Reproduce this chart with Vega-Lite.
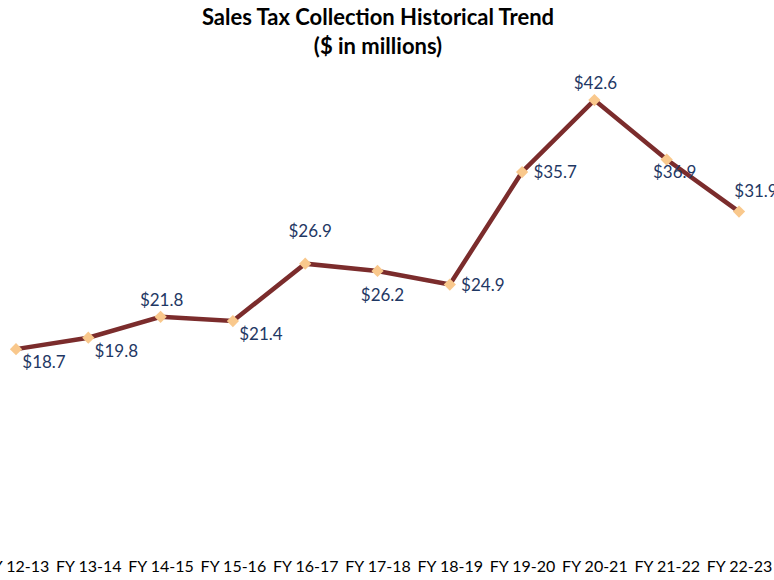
{
  "$schema": "https://vega.github.io/schema/vega-lite/v6.json",
  "width": 774,
  "height": 580,
  "autosize": "none",
  "padding": 0,
  "background": "white",
  "config": {"view": {"stroke": null}, "font": "Lato"},
  "title": {
    "text": ["Sales Tax Collection Historical Trend", "($ in millions)"],
    "fontSize": 22,
    "fontWeight": "bold",
    "font": "Lato",
    "color": "#000000",
    "anchor": "middle",
    "dx": -9,
    "dy": 63,
    "lineHeight": 29
  },
  "data": {
    "values": [
      {"fy": "FY 12-13", "v": 18.7},
      {"fy": "FY 13-14", "v": 19.8},
      {"fy": "FY 14-15", "v": 21.8},
      {"fy": "FY 15-16", "v": 21.4},
      {"fy": "FY 16-17", "v": 26.9},
      {"fy": "FY 17-18", "v": 26.2},
      {"fy": "FY 18-19", "v": 24.9},
      {"fy": "FY 19-20", "v": 35.7},
      {"fy": "FY 20-21", "v": 42.6},
      {"fy": "FY 21-22", "v": 36.9},
      {"fy": "FY 22-23", "v": 31.9}
    ]
  },
  "encoding": {
    "x": {
      "field": "fy",
      "type": "ordinal",
      "sort": null,
      "scale": {"type": "point", "range": [16, 739], "padding": 0},
      "axis": {
        "title": null,
        "domain": false,
        "ticks": false,
        "labelAngle": 0,
        "labelFontSize": 16,
        "labelColor": "#000000",
        "labelPadding": 5,
        "labelOverlap": false,
        "labelBound": false,
        "labelFlush": false,
        "offset": -27,
        "grid": false
      }
    },
    "y": {
      "field": "v",
      "type": "quantitative",
      "scale": {"domain": [0, 50], "range": [544, 23], "zero": true, "nice": false},
      "axis": null
    }
  },
  "layer": [
    {"mark": {"type": "line", "color": "#7B2C2C", "strokeWidth": 4.5}},
    {"mark": {"type": "point", "shape": "diamond", "filled": true, "color": "#F9C88C", "opacity": 1, "size": 150}},
    {
      "transform": [{"filter": {"field": "fy", "oneOf": ["FY 12-13", "FY 13-14", "FY 15-16"]}}],
      "mark": {"type": "text", "fontSize": 17, "color": "#1F3864", "dx": 28, "dy": 14},
      "encoding": {"text": {"field": "v", "type": "quantitative", "format": "$.1f"}}
    },
    {
      "transform": [{"filter": {"field": "fy", "oneOf": ["FY 14-15", "FY 20-21"]}}],
      "mark": {"type": "text", "fontSize": 17, "color": "#1F3864", "dx": 1, "dy": -16},
      "encoding": {"text": {"field": "v", "type": "quantitative", "format": "$.1f"}}
    },
    {
      "transform": [{"filter": {"field": "fy", "oneOf": ["FY 16-17"]}}],
      "mark": {"type": "text", "fontSize": 17, "color": "#1F3864", "dx": 5, "dy": -32},
      "encoding": {"text": {"field": "v", "type": "quantitative", "format": "$.1f"}}
    },
    {
      "transform": [{"filter": {"field": "fy", "oneOf": ["FY 17-18"]}}],
      "mark": {"type": "text", "fontSize": 17, "color": "#1F3864", "dx": 5, "dy": 25},
      "encoding": {"text": {"field": "v", "type": "quantitative", "format": "$.1f"}}
    },
    {
      "transform": [{"filter": {"field": "fy", "oneOf": ["FY 18-19", "FY 19-20"]}}],
      "mark": {"type": "text", "fontSize": 17, "color": "#1F3864", "dx": 33, "dy": 1},
      "encoding": {"text": {"field": "v", "type": "quantitative", "format": "$.1f"}}
    },
    {
      "transform": [{"filter": {"field": "fy", "oneOf": ["FY 21-22"]}}],
      "mark": {"type": "text", "fontSize": 17, "color": "#1F3864", "dx": 8, "dy": 13},
      "encoding": {"text": {"field": "v", "type": "quantitative", "format": "$.1f"}}
    },
    {
      "transform": [{"filter": {"field": "fy", "oneOf": ["FY 22-23"]}}],
      "mark": {"type": "text", "fontSize": 17, "color": "#1F3864", "dx": 17, "dy": -20},
      "encoding": {"text": {"field": "v", "type": "quantitative", "format": "$.1f"}}
    }
  ]
}
